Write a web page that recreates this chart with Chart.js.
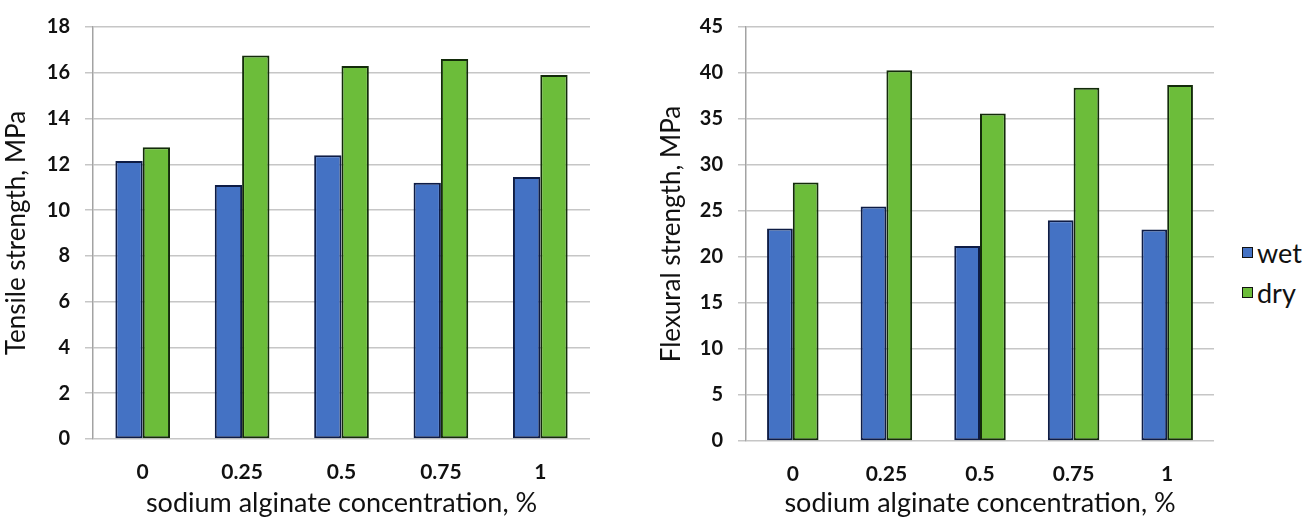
<!DOCTYPE html>
<html>
<head>
<meta charset="utf-8">
<script src="https://cdn.jsdelivr.net/npm/chart.js@4.4.1/dist/chart.umd.min.js"></script>
<style>
  html, body { margin: 0; padding: 0; background: #fff; }
  body { width: 1307px; height: 519px; position: relative; overflow: hidden; font-family: Lato, sans-serif; }
  .box { position: absolute; top: 0; height: 519px; }
  #leftBox { left: 0; width: 592px; }
  #rightBox { left: 650px; width: 566px; }
  .legend { position: absolute; left: 1242px; font: 27px Lato, sans-serif; color: #111; }
  .legend .item { position: absolute; left: 0; display: flex; align-items: center; height: 26px; white-space: nowrap; }
  .legend .sw { width: 9px; height: 9px; border: 1px solid #111; margin-right: 4px; }
</style>
</head>
<body>
<div class="box" id="leftBox"><canvas id="tensile"></canvas></div>
<div class="box" id="rightBox"><canvas id="flexural"></canvas></div>
<div class="legend" id="legend"></div>

<script>
// categories (sodium alginate concentration, %)
const categories = ['0', '0.25', '0.5', '0.75', '1'];

// tensile strength, MPa
const tensileWet = [12.15, 11.1, 12.4, 11.2, 11.45];
const tensileDry = [12.75, 16.75, 16.3, 16.6, 15.9];

// flexural strength, MPa
const flexuralWet = [23.1, 25.5, 21.2, 24.0, 23.0];
const flexuralDry = [28.1, 40.3, 35.6, 38.4, 38.7];

// y tick labels
const tensileTicks = [0, 2, 4, 6, 8, 10, 12, 14, 16, 18];
const flexuralTicks = [0, 5, 10, 15, 20, 25, 30, 35, 40, 45];

const seriesNames = ['wet', 'dry'];

const WET_FILL = '#4472c4', WET_LINE = '#0e1c45';
const DRY_FILL = '#6cbd3a', DRY_LINE = '#132b0a';
const GRID = '#c6c6c6';

function makeChart(canvas, wet, dry, ticks, yTitle, yWidth, xHeight, titleX) {
  const ctx = canvas.getContext('2d');
  return new Chart(ctx, {
    type: 'bar',
    data: {
      labels: categories,
      datasets: [
        { label: seriesNames[0], data: wet, backgroundColor: WET_FILL, borderColor: WET_LINE, borderWidth: 2, borderSkipped: false },
        { label: seriesNames[1], data: dry, backgroundColor: DRY_FILL, borderColor: DRY_LINE, borderWidth: 2, borderSkipped: false }
      ]
    },
    options: {
      responsive: true,
      maintainAspectRatio: false,
      animation: false,
      layout: { padding: { top: 22, right: 2, left: 0, bottom: 0 } },
      plugins: { legend: { display: false }, tooltip: { enabled: false } },
      datasets: { bar: { categoryPercentage: 0.55, barPercentage: 1.0 } },
      scales: {
        x: {
          grid: { display: false, drawTicks: false },
          border: { display: false },
          ticks: { color: '#111', padding: 21, font: { family: 'Lato', size: 21, weight: 'bold' } },
          title: { display: true, text: 'sodium alginate concentration, %', color: '#111',
                   padding: { top: 0, bottom: 0 }, font: { family: 'Lato', size: 27 } },
          afterFit(s) { s.height = xHeight; }
        },
        y: {
          min: 0,
          max: ticks[ticks.length - 1],
          afterBuildTicks(s) { s.ticks = ticks.map(v => ({ value: v })); },
          grid: { color: GRID, lineWidth: 1.5, tickLength: 8 },
          border: { display: true, color: '#a3a3a3', width: 1.5 },
          ticks: { color: '#111', padding: 15, font: { family: 'Lato', size: 20, weight: 'bold' } },
          title: { display: true, text: yTitle, color: '#111',
                   padding: { top: titleX, bottom: 0 }, font: { family: 'Lato', size: 26 } },
          afterFit(s) { s.width = yWidth; }
        }
      }
    }
  });
}

const left = makeChart(document.getElementById('tensile'), tensileWet, tensileDry, tensileTicks,
  'Tensile strength, MPa', 93, 80, 1);
const right = makeChart(document.getElementById('flexural'), flexuralWet, flexuralDry, flexuralTicks,
  'Flexural strength, MPa', 96, 78, 6);

// legend built from the right chart's datasets
const legend = document.getElementById('legend');
right.data.datasets.forEach((ds, i) => {
  const item = document.createElement('div');
  item.className = 'item';
  item.style.top = (239 + i * 40) + 'px';
  const sw = document.createElement('span');
  sw.className = 'sw';
  sw.style.background = ds.backgroundColor;
  item.appendChild(sw);
  item.appendChild(document.createTextNode(ds.label));
  legend.appendChild(item);
});
</script>
</body>
</html>
